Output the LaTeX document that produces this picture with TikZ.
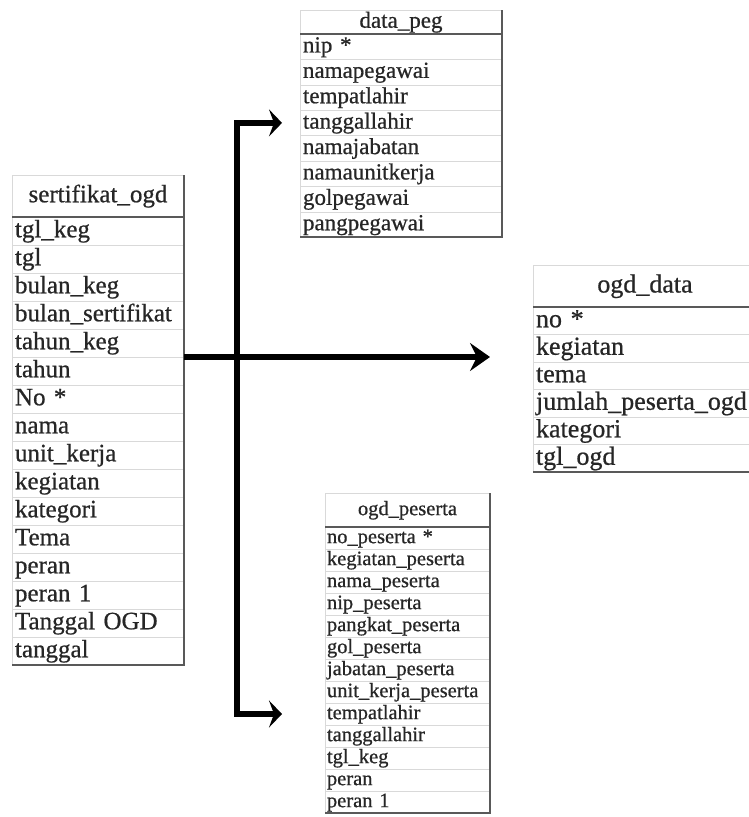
\documentclass[tikz,border=0pt]{standalone}
\usepackage{fontspec}
\setmainfont{Liberation Serif}[FakeBold=0.7]
\usetikzlibrary{arrows.meta}

\tikzset{
  cell/.style={draw=gray!30, line width=0.6pt, anchor=north west, outer sep=0pt,
    inner xsep=3pt, inner ysep=0pt, align=left, text=black!85},
  headcell/.style={align=center},
  edge/.style={black!65, line width=1.6pt},
  sertcell/.style={cell, text width=166pt, minimum height=28pt, text height=18pt, text depth=5.5pt, font=\fontsize{25}{25}\selectfont},
  pegcell/.style={cell, text width=196pt, minimum height=25.4pt, text height=16.5pt, text depth=5pt, font=\fontsize{23}{23}\selectfont},
  odcell/.style={cell, text width=218pt, minimum height=27.5pt, text height=18.7pt, text depth=5.7pt, font=\fontsize{26}{26}\selectfont},
  opcell/.style={cell, inner xsep=2pt, text width=161pt, minimum height=22pt, text height=14.8pt, text depth=4.5pt, font=\fontsize{20.5}{20.5}\selectfont},
  link/.style={line width=5.5pt, -{Stealth[length=20pt,width=28pt,inset=7pt]}},
  branch/.style={line width=5.5pt, -{Stealth[length=13pt,width=27pt,inset=5pt]}},
}

\begin{document}
\begin{tikzpicture}[x=1pt,y=-1pt]
\useasboundingbox (0,0) rectangle (749,817);

% sertifikat_ogd
\node[sertcell, headcell, minimum height=42pt] (sert-h) at (12,175) {sertifikat\_ogd};
\foreach \t [count=\i] in {tgl\_keg, tgl, bulan\_keg, bulan\_sertifikat, tahun\_keg, tahun, No *, nama, unit\_kerja, kegiatan, kategori, Tema, peran, peran 1, Tanggal OGD, tanggal}
  \node[sertcell] (sert-\i) at (12,{217+28*(\i-1)}) {\t};
\draw[edge] (sert-h.south west) -- (sert-h.south east);
\draw[edge] (sert-h.north east) -- (sert-16.south east) -- (sert-16.south west);

% data_peg
\node[pegcell, headcell, minimum height=24pt] (peg-h) at (300,10) {data\_peg};
\foreach \t [count=\i] in {nip *, namapegawai, tempatlahir, tanggallahir, namajabatan, namaunitkerja, golpegawai, pangpegawai}
  \node[pegcell] (peg-\i) at (300,{34+25.4*(\i-1)}) {\t};
\draw[edge] (peg-h.south west) -- (peg-h.south east);
\draw[edge] (peg-h.north east) -- (peg-8.south east) -- (peg-8.south west);

% ogd_data
\node[odcell, headcell, minimum height=42pt] (od-h) at (533,265) {ogd\_data};
\foreach \t [count=\i] in {no *, kegiatan, tema, jumlah\_peserta\_ogd, kategori, tgl\_ogd}
  \node[odcell] (od-\i) at (533,{307+27.5*(\i-1)}) {\t};
\draw[edge] (od-h.south west) -- (od-h.south east);
\draw[edge] (od-6.south east) -- (od-6.south west);

% ogd_peserta
\node[opcell, headcell, minimum height=34pt] (op-h) at (325,493) {ogd\_peserta};
\foreach \t [count=\i] in {no\_peserta *, kegiatan\_peserta, nama\_peserta, nip\_peserta, pangkat\_peserta, gol\_peserta, jabatan\_peserta, unit\_kerja\_peserta, tempatlahir, tanggallahir, tgl\_keg, peran, peran 1}
  \node[opcell] (op-\i) at (325,{527+22*(\i-1)}) {\t};
\draw[edge] (op-h.south west) -- (op-h.south east);
\draw[edge] (op-h.north east) -- (op-13.south east) -- (op-13.south west);

% relations
\coordinate (hub) at ([xshift=53pt]sert-5.south east);
\draw[link, shorten >=43pt] (sert-5.south east) -- (sert-5.south east -| od-2.west);
\draw[branch, shorten >=18pt] (hub) |- (peg-4.west);
\draw[branch, shorten >=43pt] (hub) |- (op-9.west);
\end{tikzpicture}
\end{document}
